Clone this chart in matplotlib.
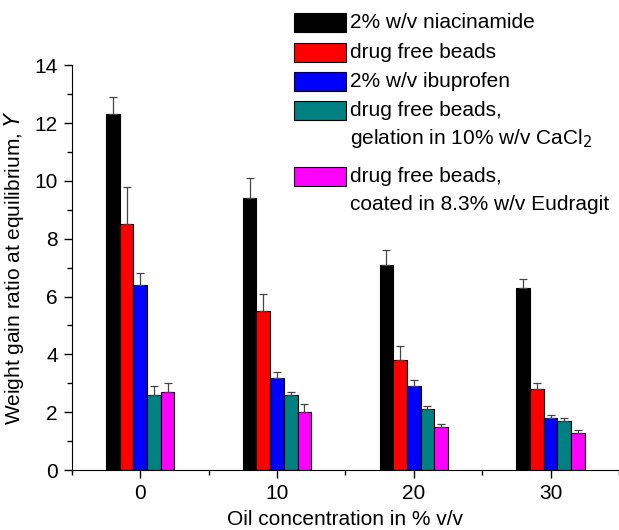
import numpy as np
import matplotlib.pyplot as plt
from matplotlib.patches import Rectangle
from matplotlib.ticker import MultipleLocator

plt.rcParams['font.family'] = ['Liberation Sans', 'DejaVu Sans']

# data
conc = [0, 10, 20, 30]
labels = ['2% w/v niacinamide',
          'drug free beads',
          '2% w/v ibuprofen',
          'drug free beads,\ngelation in 10% w/v CaCl$_2$',
          'drug free beads,\ncoated in 8.3% w/v Eudragit']
colors = ['#000000', '#ff0000', '#0000ff', '#008080', '#ff00ff']

niacinamide = [12.3, 9.4, 7.1, 6.3]
free_beads = [8.5, 5.5, 3.8, 2.8]
ibuprofen = [6.4, 3.2, 2.9, 1.8]
cacl2 = [2.6, 2.6, 2.1, 1.7]
eudragit = [2.7, 2.0, 1.5, 1.3]

err_niacinamide = [0.6, 0.7, 0.5, 0.3]
err_free_beads = [1.3, 0.6, 0.5, 0.2]
err_ibuprofen = [0.4, 0.2, 0.2, 0.1]
err_cacl2 = [0.3, 0.1, 0.1, 0.1]
err_eudragit = [0.3, 0.3, 0.1, 0.1]

series = [niacinamide, free_beads, ibuprofen, cacl2, eudragit]
errors = [err_niacinamide, err_free_beads, err_ibuprofen, err_cacl2, err_eudragit]

fs = 15

fig = plt.figure(figsize=(6.19, 5.30), dpi=100)
ax = fig.add_axes([0.116, 0.113, 0.884, 0.764])

x = np.array(conc, dtype=float)
w = 1.0
for i in range(5):
    xi = x + (i - 2) * w
    ax.bar(xi, series[i], width=w, color=colors[i], edgecolor='black', linewidth=0.8)
    ax.errorbar(xi, series[i], yerr=[np.zeros(4), errors[i]], fmt='none',
                ecolor='#444444', elinewidth=0.9, capsize=3, capthick=0.9)

ax.set_xlim(-5, 35)
ax.set_ylim(0, 14)
ax.set_xticks(conc)
ax.xaxis.set_minor_locator(MultipleLocator(5))
ax.yaxis.set_major_locator(MultipleLocator(2))
ax.yaxis.set_minor_locator(MultipleLocator(1))
ax.tick_params(which='major', direction='out', length=6, width=1, labelsize=fs, pad=4)
ax.tick_params(which='minor', direction='out', length=3.5, width=1)
ax.spines['top'].set_visible(False)
ax.spines['right'].set_visible(False)
ax.set_ylabel('Weight gain ratio at equilibrium, $\\mathit{Y}$', fontsize=fs, labelpad=6)
ax.set_xlabel('Oil concentration in % v/v', fontsize=fs, labelpad=5)

# legend drawn by hand so the patch lines up with the first text line
tops = [13, 43, 72, 101, 167]
W, H = 619, 530
for i in range(5):
    t = tops[i]
    fig.patches.append(Rectangle((294 / W, 1 - (t + 19) / H), 52 / W, 19 / H,
                                 transform=fig.transFigure, facecolor=colors[i],
                                 edgecolor='black', linewidth=0.8))
    lines = labels[i].split('\n')
    fig.text(350 / W, 1 - (t + 9.5) / H, lines[0], fontsize=fs, va='center')
    if len(lines) > 1:
        fig.text(350 / W, 1 - (t + 9.5 + 28) / H, lines[1], fontsize=fs, va='center')

fig.savefig('out.png', dpi=100)
